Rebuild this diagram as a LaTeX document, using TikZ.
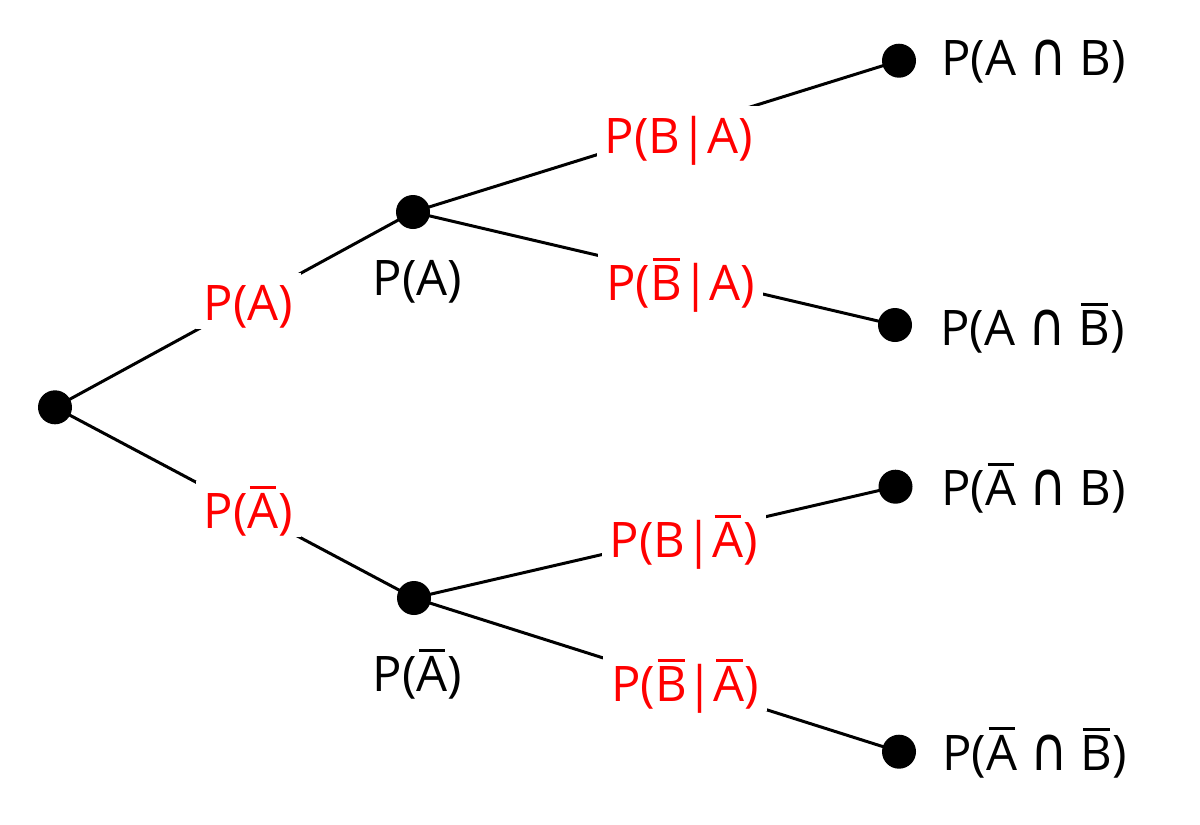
\documentclass[tikz,border=0pt]{standalone}
\usepackage{fontspec}
\setmainfont{Open Sans}
\newfontfamily\symfont{DejaVu Sans}
\newcommand\ob[1]{\setbox0\hbox{#1}\makebox[0pt][l]{\hbox to \wd0{\hss\rule[\dimexpr\ht0+2.2pt\relax]{0.85\wd0}{1.5pt}\hss}}\box0\relax}
\newcommand\sep{|}
\newcommand\capsym{\scalebox{1.05}[1.25]{\symfont ∩}}
\begin{document}
\begin{tikzpicture}[x=0.5pt,y=-0.5pt,
  dot/.style={circle,fill=black,inner sep=0pt,minimum size=17pt},
  edge/.style={draw=black,line width=1.5pt},
  prob/.style={fill=white,inner xsep=4pt,inner ysep=0pt,text height=23.5pt,text depth=4.5pt,text=red,anchor=base,font=\fontsize{24.5pt}{29pt}\selectfont},
  lab/.style={inner sep=0pt,anchor=base,font=\fontsize{24.5pt}{29pt}\selectfont},
  leaf/.style={inner sep=0pt,anchor=base west,font=\fontsize{24.5pt}{29pt}\selectfont}]
\path[use as bounding box] (0,0) rectangle (1200,825);
\node[dot] (r) at (55,407.3) {};
\node[dot] (a) at (413,212) {};
\node[dot] (na) at (414,598) {};
\node[dot] (l1) at (899,60.7) {};
\node[dot] (l2) at (895,325) {};
\node[dot] (l3) at (895.5,486.7) {};
\node[dot] (l4) at (899,751.7) {};
\draw[edge] (r.center) -- (a.center);
\draw[edge] (r.center) -- (na.center);
\draw[edge] (a.center) -- (l1.center);
\draw[edge] (a.center) -- (l2.center);
\draw[edge] (na.center) -- (l3.center);
\draw[edge] (na.center) -- (l4.center);
\node[prob] (pa) at (248.4,320) {P(A)};
\node[prob] (pna) at (248.4,528.3) {P(\ob{A})};
\node[prob] (pba) at (678.7,153.3) {P(B\sep A)};
\node[prob] (pnba) at (680.5,300) {P(\ob{B}\sep A)};
\node[prob] (pbna) at (683.8,557.7) {P(B\sep\ob{A})};
\node[prob] (pnbna) at (685.3,701.7) {P(\ob{B}\sep\ob{A})};
\node[lab] (ta) at (417.5,295.7) {P(A)};
\node[lab] (tna) at (417.5,691.7) {P(\ob{A})};
\node[leaf] (t1) at (941,75.3) {P(A \capsym{} B)};
\node[leaf] (t2) at (940,345) {P(A \capsym{} \ob{B})};
\node[leaf] (t3) at (941,505.7) {P(\ob{A} \capsym{} B)};
\node[leaf] (t4) at (942,770) {P(\ob{A} \capsym{} \ob{B})};
\end{tikzpicture}
\end{document}
